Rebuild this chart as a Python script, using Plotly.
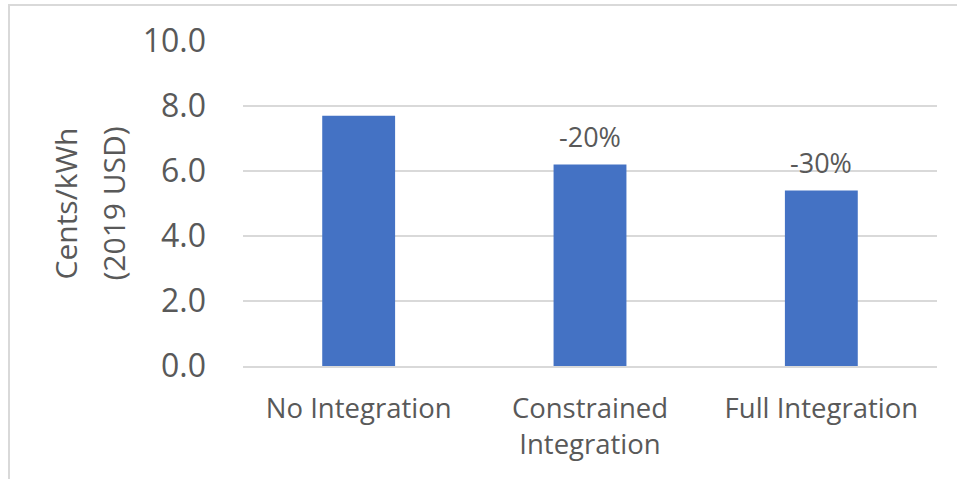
import plotly.graph_objects as go

# Levelized cost by integration scenario
categories = ["No Integration", "Constrained Integration", "Full Integration"]
tick_labels = ["No Integration", "Constrained<br>Integration", "Full Integration"]
cost_cents_kwh = [7.7, 6.2, 5.4]
change_labels = ["", "-20%", "-30%"]
y_ticks = [0, 2, 4, 6, 8, 10]

W, H = 957, 479
L, R, T, B = 243, 20, 41, 113
plot_w = W - L - R
plot_h = H - T - B

FONT = "Open Sans"
GREY = "#595959"
GRID = "#d9d9d9"
BAR = "#4472C4"

fig = go.Figure(
    go.Bar(
        x=categories,
        y=cost_cents_kwh,
        marker=dict(color=BAR, line=dict(width=0)),
        width=0.315,
        hoverinfo="x+y",
    )
)

# Percentage change labels above the bars
for cat, val, lab in zip(categories, cost_cents_kwh, change_labels):
    if lab:
        fig.add_annotation(
            x=cat, y=val, text=lab, showarrow=False,
            xanchor="center", yanchor="middle", yshift=28,
            font=dict(family=FONT, size=27, color=GREY),
        )

# Two-line rotated axis title
def px_to_paper_x(px):
    return (px - L) / plot_w

def px_to_paper_y(py):
    return (H - B - py) / plot_h

for text, cx in [("Cents/kWh", 65), ("(2019 USD)", 113)]:
    fig.add_annotation(
        x=px_to_paper_x(cx), y=0.5, xref="paper", yref="paper",
        text=text, showarrow=False, textangle=-90,
        xanchor="center", yanchor="middle",
        font=dict(family=FONT, size=30, color=GREY),
    )

# Light chart-area frame
fig.add_shape(
    type="rect", xref="paper", yref="paper",
    x0=px_to_paper_x(9), x1=px_to_paper_x(W + 5),
    y0=px_to_paper_y(H + 5), y1=px_to_paper_y(5),
    line=dict(color=GRID, width=2), fillcolor="rgba(0,0,0,0)", layer="below",
)

fig.update_layout(
    width=W, height=H,
    margin=dict(l=L, r=R, t=T, b=B, autoexpand=False),
    paper_bgcolor="white", plot_bgcolor="white",
    showlegend=False,
    font=dict(family=FONT, color=GREY),
    xaxis=dict(
        tickmode="array", tickvals=categories, ticktext=tick_labels,
        tickfont=dict(family=FONT, size=27.5, color=GREY),
        showgrid=False, showline=True, linecolor=GRID, linewidth=1.5,
        ticks="", ticklabelstandoff=17,
    ),
    yaxis=dict(
        range=[0, 10], tickvals=y_ticks,
        ticktext=[f"{v:.1f}" for v in y_ticks],
        tickfont=dict(family=FONT, size=32, color=GREY),
        showgrid=True, gridcolor=GRID, gridwidth=1.5,
        zeroline=False, showline=False,
        ticks="", ticklabelstandoff=36,
    ),
)

fig.write_html("out.html")
